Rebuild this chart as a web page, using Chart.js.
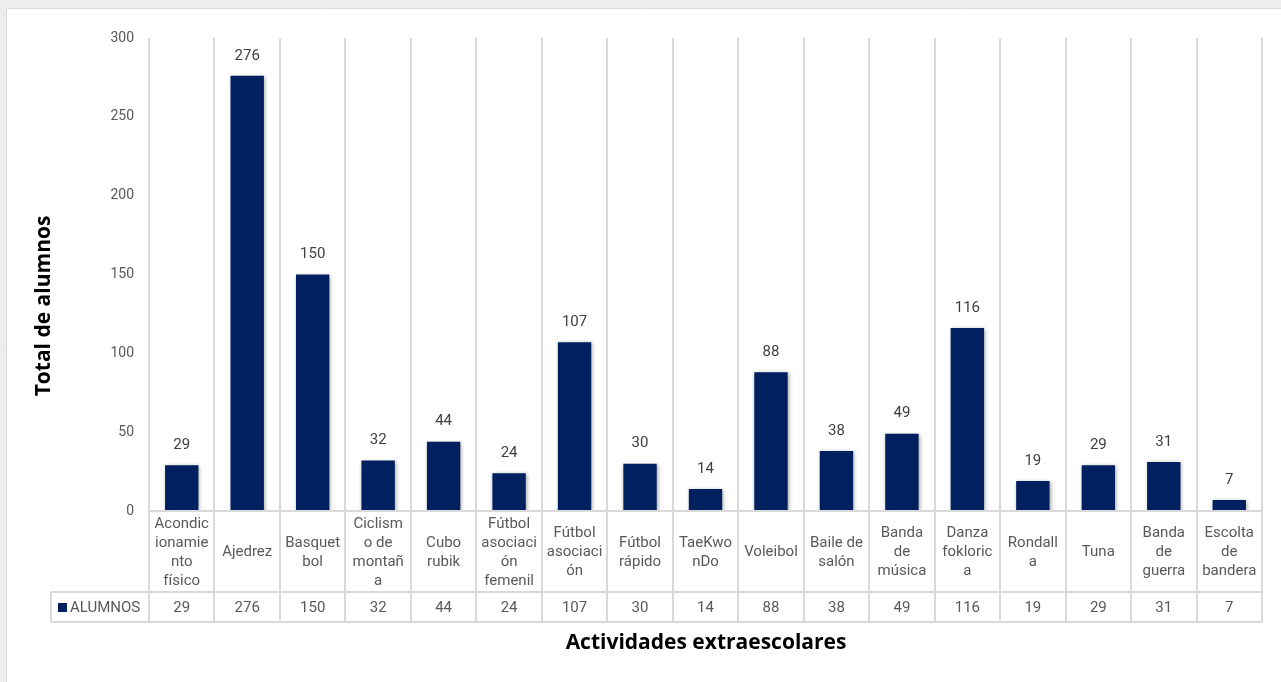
<!DOCTYPE html>
<html>
<head>
<meta charset="utf-8">
<script src="https://cdn.jsdelivr.net/npm/chart.js@4/dist/chart.umd.min.js"></script>
<style>
html,body{margin:0;padding:0;background:#ededed;}
canvas{display:block;}
</style>
</head>
<body>
<canvas id="chart" width="1281" height="682"></canvas>
<script>
// Actividades extraescolares - total de alumnos

/* DATA */

const categories = [
  ["Acondic","ionamie","nto","físico"],
  ["Ajedrez"],
  ["Basquet","bol"],
  ["Ciclism","o de","montañ","a"],
  ["Cubo","rubik"],
  ["Fútbol","asociaci","ón","femenil"],
  ["Fútbol","asociaci","ón"],
  ["Fútbol","rápido"],
  ["TaeKwo","nDo"],
  ["Voleibol"],
  ["Baile de","salón"],
  ["Banda","de","música"],
  ["Danza","fokloric","a"],
  ["Rondall","a"],
  ["Tuna"],
  ["Banda","de","guerra"],
  ["Escolta","de","bandera"]
];

const seriesName = "ALUMNOS";
const alumnos = [29,276,150,32,44,24,107,30,14,88,38,49,116,19,29,31,7];

const yTicks = [0,50,100,150,200,250,300];

const xTitle = "Actividades extraescolares";
const yTitle = "Total de alumnos";

/* STYLE */

const NAVY = "#002060";
const GRID = "#d9d9d9";
const TEXT = "#595959";
const FONT = "Roboto, 'Liberation Sans', sans-serif";

/* PLUGINS */

const framePlugin = {
  id: "frame",
  beforeDraw(chart){
    const ctx = chart.ctx;
    ctx.save();
    ctx.fillStyle = "#ededed";
    ctx.fillRect(0,0,chart.width,chart.height);
    ctx.fillStyle = "#ffffff";
    ctx.fillRect(6,8,chart.width-6,chart.height-8);
    ctx.strokeStyle = GRID;
    ctx.lineWidth = 1;
    ctx.beginPath();
    ctx.moveTo(6.5,chart.height);
    ctx.lineTo(6.5,8.5);
    ctx.lineTo(chart.width,8.5);
    ctx.stroke();
    ctx.restore();
  }
};

const shadowPlugin = {
  id: "barShadow",
  beforeDatasetDraw(chart){
    const ctx = chart.ctx;
    ctx.save();
    ctx.shadowColor = "rgba(0,0,0,0.35)";
    ctx.shadowBlur = 4;
    ctx.shadowOffsetX = 1;
    ctx.shadowOffsetY = 1;
  },
  afterDatasetDraw(chart){
    chart.ctx.restore();
  }
};

const valueLabels = {
  id: "valueLabels",
  afterDatasetsDraw(chart){
    const ctx = chart.ctx;
    const meta = chart.getDatasetMeta(0);
    ctx.save();
    ctx.font = "15px " + FONT;
    ctx.fillStyle = "#404040";
    ctx.textAlign = "center";
    ctx.textBaseline = "middle";
    meta.data.forEach((bar,i) => {
      ctx.fillText(String(alumnos[i]), bar.x, bar.y - 20);
    });
    ctx.restore();
  }
};

const dataTable = {
  id: "dataTable",
  afterDraw(chart){
    const ctx = chart.ctx;
    const area = chart.chartArea;
    const n = categories.length;
    const w = (area.right - area.left) / n;
    const rowTop = area.bottom;
    const rowMid = 592;
    const rowBot = 622;
    const legendLeft = 51;

    ctx.save();
    ctx.strokeStyle = GRID;
    ctx.lineWidth = 2;

    /* vertical lines */
    ctx.beginPath();
    for(let i=0;i<=n;i++){
      const x = Math.round(area.left + i*w);
      ctx.moveTo(x, area.top);
      ctx.lineTo(x, rowBot);
    }
    ctx.moveTo(legendLeft, rowMid);
    ctx.lineTo(legendLeft, rowBot);

    /* horizontal lines */
    ctx.moveTo(area.left, rowTop);
    ctx.lineTo(area.right, rowTop);
    ctx.moveTo(legendLeft, rowMid);
    ctx.lineTo(area.right, rowMid);
    ctx.moveTo(legendLeft, rowBot);
    ctx.lineTo(area.right, rowBot);
    ctx.stroke();

    /* category labels */
    ctx.font = "15px " + FONT;
    ctx.fillStyle = TEXT;
    ctx.textAlign = "center";
    ctx.textBaseline = "middle";
    const lh = 19;
    const midY = (rowTop + rowMid) / 2 + 1;
    categories.forEach((lines,i) => {
      const cx = area.left + (i+0.5)*w;
      const y0 = midY - (lines.length-1)*lh/2;
      lines.forEach((t,j) => ctx.fillText(t, cx, y0 + j*lh));
    });

    /* values row */
    const vy = (rowMid + rowBot) / 2 + 1;
    alumnos.forEach((v,i) => {
      ctx.fillText(String(v), area.left + (i+0.5)*w, vy);
    });

    /* legend cell */
    ctx.fillStyle = NAVY;
    ctx.fillRect(58, vy-5, 9, 9);
    ctx.fillStyle = TEXT;
    ctx.textAlign = "left";
    ctx.fillText(seriesName, 70, vy);

    /* axis titles */
    ctx.font = "bold 21px 'Open Sans', sans-serif";
    ctx.fillStyle = "#000000";
    ctx.textAlign = "center";
    ctx.fillText(xTitle, 706, 643);

    ctx.translate(44, 306);
    ctx.rotate(-Math.PI/2);
    ctx.fillText(yTitle, 0, 0);

    ctx.restore();
  }
};

/* CHART */

const ctx = document.getElementById("chart");

new Chart(ctx,{
  type: "bar",
  data:{
    labels: categories,
    datasets:[{
      label: seriesName,
      data: alumnos,
      backgroundColor: NAVY,
      borderWidth: 0,
      categoryPercentage: 1,
      barPercentage: 0.51
    }]
  },
  options:{
    responsive: false,
    animation: false,
    devicePixelRatio: 1,
    layout:{
      padding:{ left: 0, right: 19, top: 38, bottom: 171 }
    },
    plugins:{
      legend:{ display:false },
      tooltip:{ enabled:false }
    },
    scales:{
      x:{
        display: false
      },
      y:{
        min: 0,
        max: 300,
        afterFit(scale){ scale.width = 149; },
        afterBuildTicks(scale){ scale.ticks = yTicks.map(v => ({value:v})); },
        grid:{ display:false, drawTicks:false },
        border:{ display:false },
        ticks:{
          padding: 15,
          color: TEXT,
          font:{ size: 14, family: FONT }
        }
      }
    }
  },
  plugins:[framePlugin, shadowPlugin, valueLabels, dataTable]
});
</script>
</body>
</html>
